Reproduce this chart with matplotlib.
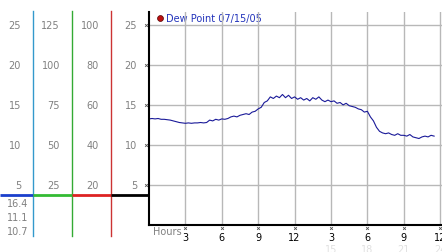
import numpy as np
import matplotlib
matplotlib.use("Agg")
import matplotlib.pyplot as plt

# dew point readings, every 15 minutes
dew = [13.25, 13.3, 13.25, 13.3, 13.2, 13.2, 13.15, 13.1,
       13.0, 12.9, 12.8, 12.75, 12.7, 12.75, 12.7, 12.75,
       12.75, 12.8, 12.75, 12.8, 13.1, 13.0, 13.2, 13.1,
       13.25, 13.2, 13.3, 13.5, 13.6, 13.5, 13.7, 13.8,
       13.9, 13.8, 14.1, 14.2, 14.5, 14.7, 15.3, 15.5,
       16.0, 15.8, 16.1, 15.9, 16.3, 15.9, 16.2, 15.8,
       16.0, 15.7, 15.9, 15.6, 15.8, 15.5, 15.9, 15.7,
       16.0, 15.6, 15.4, 15.6, 15.4, 15.5, 15.2, 15.3,
       15.0, 15.2, 14.9, 14.8, 14.7, 14.5, 14.4, 14.1,
       14.2, 13.5, 13.0, 12.2, 11.7, 11.5, 11.4, 11.5,
       11.3, 11.2, 11.4, 11.2, 11.2, 11.1, 11.3, 11.0,
       10.9, 10.8, 11.0, 11.1, 11.0, 11.2, 11.1]
hours = np.arange(len(dew)) * 0.25

hour_ticks = [3, 6, 9, 12, 15, 18, 21, 24]
hour_labels = ['3', '6', '9', '12', '3', '6', '9', '12']
pm_labels = ['15', '18', '21', '24']
y_ticks = [5, 10, 15, 20, 25]

# left scale columns
col_a = ['5', '10', '15', '20', '25']
col_b = ['25', '50', '75', '100', '125']
col_c = ['20', '40', '60', '80', '100']
col_d = ['5', '10', '15', '20', '25']
extra = ['16.4', '11.1', '10.7']

W, H = 442, 253
fig = plt.figure(figsize=(W / 100, H / 100), dpi=100)

# overlay in pixel coords for the left panel decorations
bg = fig.add_axes([0, 0, 1, 1])
bg.set_xlim(0, W)
bg.set_ylim(H, 0)
bg.axis('off')

gray = '#808080'
ypix = [186, 146, 106, 66, 26]
for lab_list, xr in [(col_a, 21), (col_b, 60), (col_c, 99), (col_d, 137)]:
    for lab, yp in zip(lab_list, ypix):
        bg.text(xr, yp, lab, color=gray, fontsize=7, ha='right', va='center')
for lab, yp in zip(extra, [204, 218, 232]):
    bg.text(7, yp, lab, color=gray, fontsize=7, ha='left', va='center')

bg.plot([33, 33], [12, 237], color='#3399cc', lw=1)
bg.plot([72, 72], [12, 237], color='#33aa33', lw=1)
bg.plot([111, 111], [12, 237], color='#cc3333', lw=1)
bg.plot([0, 33], [196, 196], color='#1a3fcc', lw=2, solid_capstyle='butt')
bg.plot([33, 72], [196, 196], color='#33bb33', lw=2, solid_capstyle='butt')
bg.plot([72, 111], [196, 196], color='#dd2222', lw=2, solid_capstyle='butt')
bg.plot([111, 149], [196, 196], color='black', lw=2, solid_capstyle='butt')
bg.scatter([146] * len(ypix), ypix, marker='x', s=4, color='#555555', lw=0.6)

# main chart
ax = fig.add_axes([149 / W, (H - 226) / H, 293 / W, (226 - 13) / H])
ax.set_xlim(0, 24.15)
ax.set_ylim(0, 26.6)
ax.patch.set_alpha(0)
for s in ['top', 'right']:
    ax.spines[s].set_visible(False)
ax.spines['left'].set_linewidth(1.5)
ax.spines['bottom'].set_linewidth(1.5)
ax.set_xticks(hour_ticks)
ax.set_yticks(y_ticks)
ax.tick_params(length=0, labelleft=False, labelbottom=False)
ax.grid(True, color='#b8b8b8', lw=1)
ax.plot(hours, dew, color='#1a1a99', lw=0.8)

ax.scatter(hour_ticks, [-0.4] * len(hour_ticks), marker='x', s=4,
           color='#555555', lw=0.6, clip_on=False)
for h, lab in zip(hour_ticks, hour_labels):
    ax.text(h, -1.5, lab, fontsize=7, ha='center', va='center', clip_on=False)
for h, lab in zip(hour_ticks[4:], pm_labels):
    ax.text(h, -3.0, lab, fontsize=7, color='#e0e0e0', ha='center', va='center')
ax.text(0.3, -0.8, 'Hours', fontsize=7, color=gray, ha='left', va='center')

bg.scatter([160], [19], s=18, color='#bb1111', edgecolor='#550000', lw=0.5, zorder=5)
bg.text(166, 19, 'Dew Point 07/15/05', fontsize=7, color='#2233bb', va='center')

fig.savefig('out.png', dpi=100)
